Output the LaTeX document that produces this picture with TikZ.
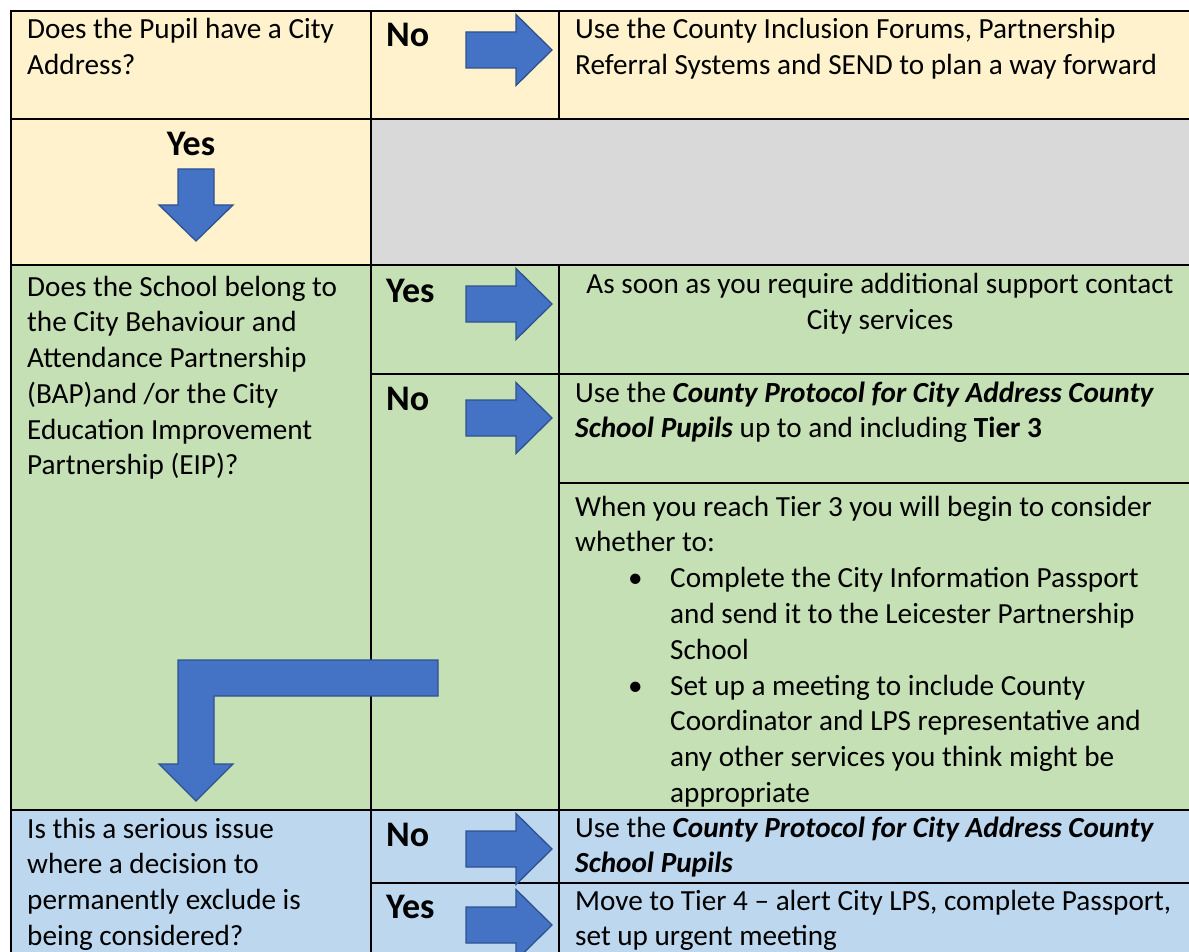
\documentclass[tikz,border=0pt]{standalone}
\usepackage{fontspec}
\setmainfont{Carlito}
\definecolor{cellyellow}{HTML}{FFF2CC}
\definecolor{cellgray}{HTML}{D9D9D9}
\definecolor{cellgreen}{HTML}{C5E0B4}
\definecolor{cellblue}{HTML}{BDD7EE}
\definecolor{arrowfill}{HTML}{4472C4}
\definecolor{arrowedge}{HTML}{2F528F}
\newcommand{\celltext}[2]{\parbox[t]{#1}{#2}}
\newcommand{\bul}{\hspace*{53pt}\makebox[42pt][l]{\textbullet}}
\newcommand{\ind}{\hspace*{95pt}}
\tikzset{
  txt/.style={anchor=base west, inner sep=0pt, font=\fontsize{29.2}{35.8}\selectfont},
  ctxt/.style={anchor=base, inner sep=0pt, font=\fontsize{29.2}{35.8}\selectfont},
  lbl/.style={anchor=base west, inner sep=0pt, font=\fontsize{36}{40}\selectfont\bfseries},
  clbl/.style={anchor=base, inner sep=0pt, font=\fontsize{36}{40}\selectfont\bfseries},
  gridline/.style={line width=2.6pt, black, line cap=rect},
  blockarrow/.style={fill=arrowfill, draw=arrowedge, line width=1.3pt, line join=miter},
}
\newcommand{\rightblock}[1]{%
  \draw[blockarrow] (466,{#1-18}) -- (516,{#1-18}) -- (516,{#1-35.5}) -- (552,#1)
    -- (516,{#1+35.5}) -- (516,{#1+18}) -- (466,{#1+18}) -- cycle;}
\begin{document}
\begin{tikzpicture}[x=1pt,y=-1pt]
\useasboundingbox (0,0) rectangle (1189,952);
% cell fills
\fill[cellyellow] (11,11) rectangle (1210,265);
\fill[cellgray] (371,119) rectangle (1210,265);
\fill[cellgreen] (11,265) rectangle (1210,810);
\fill[cellblue] (11,810) rectangle (1210,970);
% grid lines
\draw[gridline] (11,11) -- (1210,11);
\draw[gridline] (11,119) -- (1210,119);
\draw[gridline] (11,265) -- (1210,265);
\draw[gridline] (371,374) -- (1210,374);
\draw[gridline] (559,483) -- (1210,483);
\draw[gridline] (11,810) -- (1210,810);
\draw[gridline] (371,883) -- (1210,883);
\draw[gridline] (11,11) -- (11,970);
\draw[gridline] (371,11) -- (371,970);
\draw[gridline] (559,11) -- (559,119);
\draw[gridline] (559,265) -- (559,970);
% arrows
\rightblock{50}
\rightblock{304}
\rightblock{418}
\rightblock{849}
\rightblock{925}
\draw[blockarrow] (178,169) -- (214,169) -- (214,205) -- (233,205) -- (196,241)
  -- (159,205) -- (178,205) -- cycle;
\draw[blockarrow] (438,660) -- (438,696) -- (214,696) -- (214,764) -- (233,764)
  -- (196,801) -- (159,764) -- (178,764) -- (178,660) -- cycle;
% row 1
\node[txt] (q1) at (27,39) {\celltext{340pt}{Does the Pupil have a City\\Address?}};
\node[lbl] (no1) at (386,47) {No};
\node[txt] (a1) at (575,39) {\celltext{620pt}{Use the County Inclusion Forums, Partnership\\Referral Systems and SEND to plan a way forward}};
\node[clbl] (yes1) at (191,156) {Yes};
% green rows
\node[txt] (q2) at (27,296) {\celltext{340pt}{Does the School belong to\\the City Behaviour and\\Attendance Partnership\\(BAP)and /or the City\\Education Improvement\\Partnership (EIP)?}};
\node[lbl] (yes2) at (386,302) {Yes};
\node[ctxt] (a2) at (880,294) {\celltext{620pt}{\centering As soon as you require additional support contact\\City services}};
\node[lbl] (no2) at (386,410) {No};
\node[txt] (a3) at (575,402) {\celltext{620pt}{Use the \textbf{\textit{County Protocol for City Address County}}\\\textbf{\textit{School Pupils}} up to and including \textbf{Tier 3}}};
\node[txt] (a4) at (575,516) {\celltext{620pt}{When you reach Tier 3 you will begin to consider\\whether to:\\
\bul Complete the City Information Passport\\
\ind and send it to the Leicester Partnership\\
\ind School\\
\bul Set up a meeting to include County\\
\ind Coordinator and LPS representative and\\
\ind any other services you think might be\\
\ind appropriate}};
% blue rows
\node[txt] (q3) at (27,838) {\celltext{340pt}{Is this a serious issue\\where a decision to\\permanently exclude is\\being considered?}};
\node[lbl] (no3) at (386,846) {No};
\node[txt] (a5) at (575,837) {\celltext{620pt}{Use the \textbf{\textit{County Protocol for City Address County}}\\\textbf{\textit{School Pupils}}}};
\node[lbl] (yes3) at (386,918) {Yes};
\node[txt] (a6) at (575,910) {\celltext{620pt}{Move to Tier 4 – alert City LPS, complete Passport,\\set up urgent meeting}};
\end{tikzpicture}
\end{document}
